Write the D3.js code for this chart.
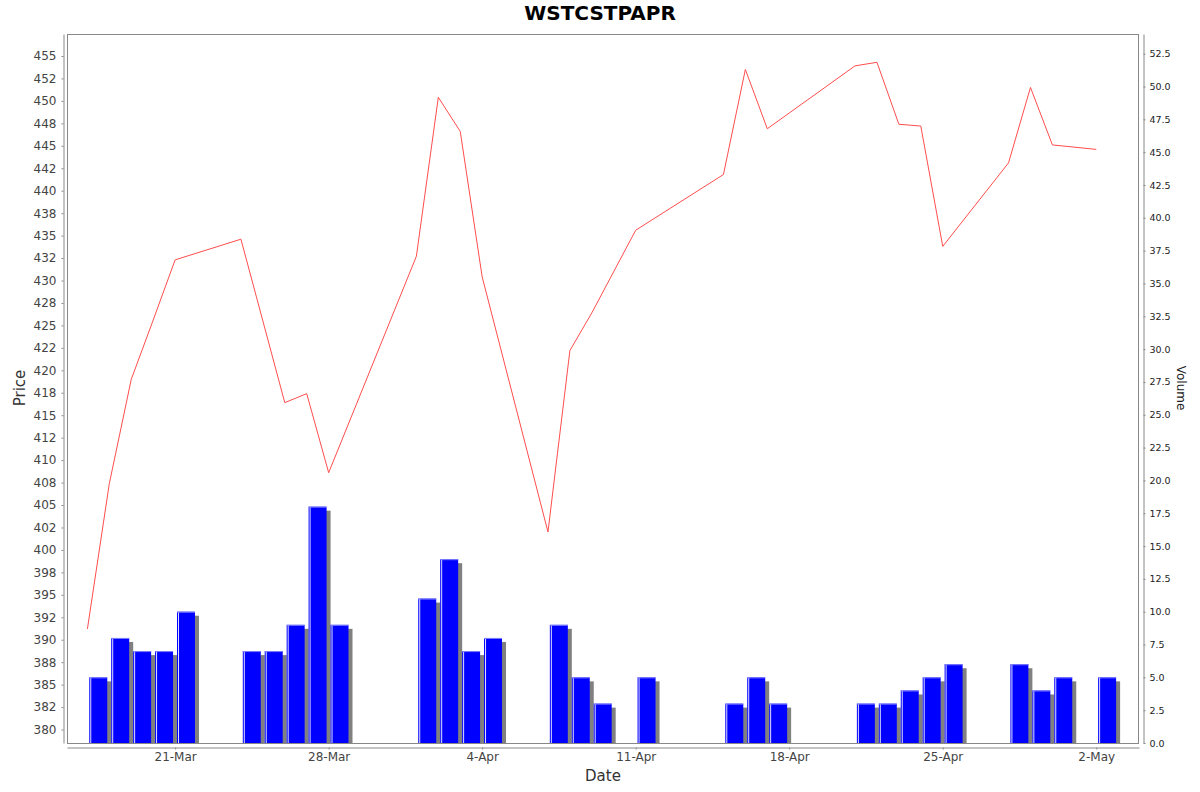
<!DOCTYPE html>
<html>
<head>
<meta charset="utf-8">
<script src="https://cdn.jsdelivr.net/npm/d3@7"></script>
<style>
  body { margin: 0; background: #fff; }
  svg { display: block; font-family: "DejaVu Sans", sans-serif; }
</style>
</head>
<body>
<svg id="canvas" width="1200" height="792"></svg>
<script>
// trading days (2025), closing price and volume
let dates = ['2025-03-17','2025-03-18','2025-03-19','2025-03-20','2025-03-21',
             '2025-03-24','2025-03-25','2025-03-26','2025-03-27','2025-03-28',
             '2025-04-01','2025-04-02','2025-04-03','2025-04-04',
             '2025-04-07','2025-04-08','2025-04-09','2025-04-11',
             '2025-04-15','2025-04-16','2025-04-17',
             '2025-04-21','2025-04-22','2025-04-23','2025-04-24','2025-04-25',
             '2025-04-28','2025-04-29','2025-04-30','2025-05-02']
let prices = [391.2, 407.4, 419.0, 425.6, 432.3,
              434.6, 425.5, 416.4, 417.4, 408.6,
              432.7, 450.4, 446.6, 430.4,
              402.0, 422.2, 426.4, 435.6,
              441.8, 453.5, 446.9,
              453.9, 454.3, 447.4, 447.2, 433.8,
              443.1, 451.5, 445.1, 444.6]
let volumes = [5, 8, 7, 7, 10,
               7, 7, 9, 18, 9,
               11, 14, 7, 8,
               9, 5, 3, 5,
               3, 5, 3,
               3, 3, 4, 5, 6,
               6, 4, 5, 5]

let dateTicks = ['2025-03-21','2025-03-28','2025-04-04','2025-04-11','2025-04-18','2025-04-25','2025-05-02']
let priceTicks = d3.range(380, 455.1, 2.5)
let priceTickLabels = ['380','382','385','388','390','392','395','398','400','402','405','408','410','412','415','418',
                       '420','422','425','428','430','432','435','438','440','442','445','448','450','452','455']
let volumeTicks = d3.range(0, 52.6, 2.5)

let parse = d3.utcParse('%Y-%m-%d')

let canvas = d3.select('#canvas')

// plot area
let plotLeft = 67, plotRight = 1139, plotTop = 34, plotBottom = 743

let x = d3.scaleUtc()
    .domain([new Date(Date.UTC(2025, 2, 16, 1, 40)), new Date(Date.UTC(2025, 4, 3, 22, 46))])
    .range([plotLeft, plotRight])
let yPrice = d3.scaleLinear().domain([378.5, 457.45]).range([plotBottom, plotTop])
let yVolume = d3.scaleLinear().domain([0, 54]).range([plotBottom, plotTop])

canvas.append('defs').append('clipPath').attr('id', 'plotClip')
    .append('rect').attr('x', plotLeft).attr('y', plotTop)
    .attr('width', plotRight - plotLeft).attr('height', plotBottom - plotTop)

// title
canvas.append('text')
    .attr('x', 600).attr('y', 20)
    .attr('text-anchor', 'middle')
    .style('font-size', '20px').style('font-weight', 'bold')
    .text('WSTCSTPAPR')

let plot = canvas.append('g').attr('clip-path', 'url(#plotClip)')

// volume bars (one day wide, with shadow)
let bars = dates.map((d, i) => {
    let day = parse(d)
    let next = d3.utcDay.offset(day, 1)
    let w = x(next) - x(day)
    return { x0: x(day) + w * 0.085, x1: x(next) - w * 0.095, top: yVolume(volumes[i]) }
})

plot.selectAll('rect.shadow')
    .data(bars)
    .enter()
    .append('rect')
    .attr('class', 'shadow')
    .attr('x', b => b.x0 + 4)
    .attr('y', b => b.top + 4)
    .attr('width', b => b.x1 - b.x0)
    .attr('height', b => plotBottom - b.top)
    .attr('fill', '#808080')

plot.selectAll('rect.bar')
    .data(bars)
    .enter()
    .append('rect')
    .attr('class', 'bar')
    .attr('x', b => b.x0)
    .attr('y', b => b.top)
    .attr('width', b => b.x1 - b.x0)
    .attr('height', b => plotBottom - b.top)
    .attr('fill', '#0000ff')

// little highlight stripes on each bar
plot.selectAll('line.hl')
    .data(bars)
    .enter()
    .append('line')
    .attr('class', 'hl')
    .attr('x1', b => b.x0 + 1.5).attr('x2', b => b.x0 + 1.5)
    .attr('y1', b => b.top).attr('y2', plotBottom)
    .style('stroke', '#e0e0ff').style('stroke-width', 1)

plot.selectAll('line.edge')
    .data(bars)
    .enter()
    .append('line')
    .attr('class', 'edge')
    .attr('x1', b => b.x0).attr('x2', b => b.x1)
    .attr('y1', b => b.top + 0.5).attr('y2', b => b.top + 0.5)
    .style('stroke', '#8080ff').style('stroke-width', 1)

// price line
let line = d3.line()
    .x((d, i) => x(parse(dates[i])))
    .y(d => yPrice(d))

plot.append('path')
    .datum(prices)
    .attr('d', line)
    .attr('fill', 'none')
    .style('stroke', '#ff4d4d')
    .style('stroke-width', 1)

// plot border
canvas.append('rect')
    .attr('x', plotLeft + 0.5).attr('y', plotTop + 0.5)
    .attr('width', plotRight - plotLeft - 1).attr('height', plotBottom - plotTop)
    .attr('fill', 'none')
    .style('stroke', '#888').style('stroke-width', 1)

// axes
let styleAxis = (g, size, color) => {
    g.select('.domain').style('stroke', '#888')
    g.selectAll('.tick line').style('stroke', '#888')
    g.selectAll('.tick text').style('font-size', size).style('fill', color)
        .style('font-family', '"DejaVu Sans", sans-serif')
}

canvas.append('g')
    .attr('transform', 'translate(0,' + 747.5 + ')')
    .call(d3.axisBottom(x)
        .tickValues(dateTicks.map(parse))
        .tickFormat(d3.utcFormat('%-d-%b'))
        .tickSize(2).tickSizeOuter(0).tickPadding(3))
    .call(g => styleAxis(g, '12px', '#444'))

canvas.append('g')
    .attr('transform', 'translate(' + 63.5 + ',0)')
    .call(d3.axisLeft(yPrice)
        .tickValues(priceTicks)
        .tickFormat((d, i) => priceTickLabels[i])
        .tickSize(2).tickSizeOuter(0).tickPadding(5))
    .call(g => styleAxis(g, '12px', '#444'))

canvas.append('g')
    .attr('transform', 'translate(' + 1143.5 + ',0)')
    .call(d3.axisRight(yVolume)
        .tickValues(volumeTicks)
        .tickFormat(d3.format('.1f'))
        .tickSize(2).tickSizeOuter(0).tickPadding(4))
    .call(g => styleAxis(g, '9.5px', '#222'))

// axis titles
canvas.append('text')
    .attr('transform', 'translate(25,388) rotate(-90)')
    .attr('text-anchor', 'middle')
    .style('font-size', '15px').style('fill', '#333')
    .text('Price')

canvas.append('text')
    .attr('x', 603).attr('y', 781)
    .attr('text-anchor', 'middle')
    .style('font-size', '15px').style('fill', '#333')
    .text('Date')

canvas.append('text')
    .attr('transform', 'translate(1177,388) rotate(90)')
    .attr('text-anchor', 'middle')
    .style('font-size', '12px').style('fill', '#222')
    .text('Volume')
</script>
</body>
</html>
